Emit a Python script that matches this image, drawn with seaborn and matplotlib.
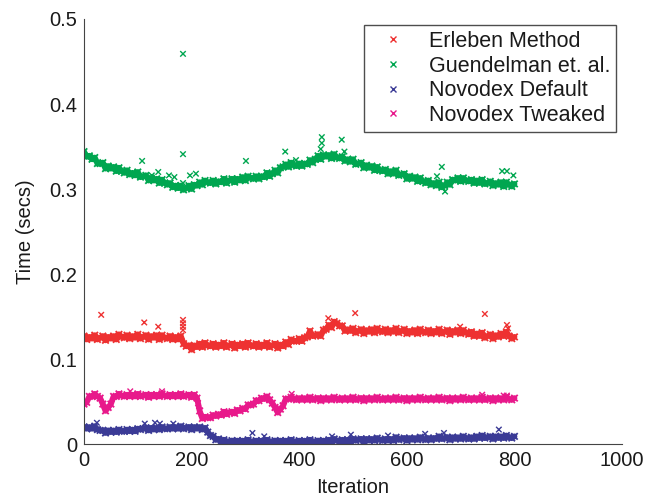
import numpy as np
import pandas as pd
import matplotlib
matplotlib.use("Agg")
import matplotlib.pyplot as plt
from matplotlib.lines import Line2D
import seaborn as sns

# Timing per iteration, sampled every 5 iterations (milliseconds)
iterations = list(range(0, 801, 5))

erleben_ms = [
    127, 123, 126, 124, 128, 123, 125, 127, 122, 126, 124, 127, 123, 129, 126, 125,
    128, 124, 127, 125, 129, 124, 126, 128, 123, 127, 125, 128, 123, 128, 125, 124,
    127, 123, 126, 123, 127, 118, 115, 116, 111, 116, 114, 118, 114, 119, 116, 115,
    118, 114, 117, 115, 119, 114, 116, 118, 113, 117, 115, 118, 114, 119, 116, 115,
    118, 114, 117, 115, 119, 114, 116, 118, 113, 117, 115, 120, 117, 123, 121, 121,
    124, 121, 125, 126, 133, 127, 128, 129, 127, 134, 135, 140, 137, 144, 142, 139,
    139, 133, 135, 133, 136, 131, 133, 135, 130, 134, 132, 135, 131, 136, 133, 132,
    135, 131, 134, 132, 136, 131, 133, 135, 130, 133, 131, 134, 130, 135, 132, 131,
    134, 130, 133, 131, 135, 130, 132, 134, 129, 133, 131, 134, 130, 134, 131, 129,
    132, 127, 130, 127, 131, 125, 127, 129, 124, 128, 126, 130, 127, 132, 127, 124,
    126,
]

guendelman_ms = [
    344, 338, 339, 335, 337, 330, 330, 331, 324, 327, 324, 326, 321, 325, 321, 319,
    322, 317, 319, 316, 320, 314, 315, 316, 310, 313, 310, 312, 307, 311, 307, 305,
    307, 302, 304, 301, 304, 299, 301, 304, 300, 305, 304, 308, 305, 310, 308, 307,
    310, 306, 309, 308, 312, 307, 310, 312, 308, 312, 310, 314, 310, 315, 313, 312,
    315, 312, 315, 314, 319, 315, 318, 322, 319, 325, 326, 329, 326, 331, 328, 327,
    330, 327, 330, 329, 334, 331, 335, 339, 335, 340, 338, 340, 336, 341, 337, 336,
    338, 333, 335, 332, 335, 329, 330, 331, 325, 328, 325, 327, 322, 326, 322, 321,
    323, 318, 321, 318, 322, 316, 317, 318, 312, 315, 312, 314, 309, 313, 309, 307,
    310, 305, 307, 304, 308, 302, 304, 308, 305, 311, 310, 313, 309, 313, 310, 309,
    311, 307, 310, 307, 311, 306, 307, 309, 304, 307, 305, 308, 303, 308, 305, 303,
    306,
]

novodex_default_ms = [
    20, 18, 20, 18, 21, 17, 16, 16, 13, 16, 14, 16, 14, 17, 15, 15,
    17, 15, 17, 15, 18, 17, 18, 19, 16, 19, 17, 19, 17, 20, 18, 18,
    20, 18, 20, 18, 21, 18, 19, 20, 17, 20, 18, 20, 17, 19, 14, 10,
    9, 5, 6, 3, 5, 2, 3, 4, 1, 4, 2, 4, 2, 5, 3, 2,
    4, 2, 4, 2, 5, 2, 3, 4, 1, 4, 2, 4, 2, 5, 3, 2,
    4, 2, 4, 2, 5, 2, 3, 4, 1, 4, 2, 5, 3, 6, 4, 3,
    5, 3, 5, 3, 6, 4, 5, 6, 3, 6, 4, 6, 4, 7, 5, 4,
    6, 4, 6, 4, 8, 5, 6, 7, 4, 7, 5, 7, 5, 8, 6, 5,
    7, 5, 7, 6, 9, 6, 7, 8, 5, 8, 6, 8, 6, 9, 7, 6,
    8, 6, 9, 7, 10, 7, 8, 9, 6, 9, 7, 9, 7, 10, 8, 7,
    9,
]

novodex_tweaked_ms = [
    47, 49, 56, 56, 59, 56, 54, 47, 39, 43, 47, 56, 56, 59, 57, 56,
    58, 56, 58, 56, 59, 56, 57, 58, 55, 58, 56, 58, 56, 59, 57, 56,
    58, 56, 58, 56, 59, 56, 57, 58, 55, 58, 54, 39, 30, 32, 31, 31,
    34, 33, 35, 34, 38, 35, 37, 38, 36, 40, 39, 42, 41, 46, 46, 47,
    51, 51, 54, 53, 56, 52, 48, 43, 37, 41, 45, 53, 53, 55, 53, 52,
    54, 52, 54, 52, 55, 52, 53, 54, 51, 54, 52, 54, 52, 55, 53, 52,
    54, 52, 54, 52, 55, 52, 53, 54, 51, 54, 52, 54, 52, 55, 53, 52,
    54, 52, 54, 52, 55, 52, 53, 54, 51, 54, 52, 54, 52, 55, 53, 52,
    54, 52, 54, 52, 55, 52, 53, 54, 51, 54, 52, 54, 52, 55, 53, 52,
    54, 52, 54, 52, 55, 52, 53, 54, 51, 54, 52, 54, 52, 55, 53, 52,
    54,
]

# Isolated slow iterations (iteration, milliseconds)
erleben_spike_iter = [32, 112, 138, 184, 184, 184, 184, 454, 504, 699, 745, 786, 788]
erleben_spike_ms = [152, 143, 138, 146, 142, 138, 134, 148, 154, 138, 153, 140, 136]

guendelman_spike_iter = [108, 126, 138, 158, 168, 184, 184, 184, 197, 208, 301, 374,
                         394, 442, 442, 440, 479, 484, 656, 665, 671, 777, 786, 798]
guendelman_spike_ms = [333, 316, 320, 316, 314, 459, 341, 307, 316, 318, 333, 344,
                       334, 361, 354, 347, 358, 344, 315, 326, 297, 321, 321, 316]

default_spike_iter = [24, 113, 132, 141, 166, 313, 335, 461, 496, 565, 634, 669, 771]
default_spike_ms = [25, 24, 25, 24, 24, 13, 9, 9, 11, 10, 12, 13, 17]

tweaked_spike_iter = [86, 145, 212, 386, 740, 780, 786]
tweaked_spike_ms = [62, 62, 48, 59, 58, 57, 57]

methods = ["Erleben Method", "Guendelman et. al.", "Novodex Default", "Novodex Tweaked"]
colors = ["#EE3131", "#00A650", "#3B3B96", "#E8198B"]

series = {
    methods[0]: (erleben_ms, erleben_spike_iter, erleben_spike_ms),
    methods[1]: (guendelman_ms, guendelman_spike_iter, guendelman_spike_ms),
    methods[2]: (novodex_default_ms, default_spike_iter, default_spike_ms),
    methods[3]: (novodex_tweaked_ms, tweaked_spike_iter, tweaked_spike_ms),
}

band_frames, spike_frames = [], []
for name, (vals, sp_it, sp_ms) in series.items():
    band_frames.append(pd.DataFrame({"Iteration": iterations,
                                     "Time": np.asarray(vals) / 1000.0,
                                     "Method": name}))
    spike_frames.append(pd.DataFrame({"Iteration": sp_it,
                                      "Time": np.asarray(sp_ms) / 1000.0,
                                      "Method": name}))
bands = pd.concat(band_frames, ignore_index=True)
spikes = pd.concat(spike_frames, ignore_index=True)

sns.set_style("white")
plt.rcParams["font.family"] = ["Liberation Sans", "DejaVu Sans"]
ink = "#1a1a1a"
fs = 14.5

fig = plt.figure(figsize=(6.48, 4.96), dpi=100)
ax = fig.add_axes([0.1296, 0.1048, 0.8304, 0.8569])

# solid core of each per-iteration trace
sns.lineplot(data=bands, x="Iteration", y="Time", hue="Method",
             hue_order=methods, palette=colors, estimator=None, sort=False,
             linewidth=4.2, ax=ax, legend=False)
# per-iteration crosses giving the band its ragged edge
sns.scatterplot(data=bands, x="Iteration", y="Time", hue="Method",
                hue_order=methods, palette=colors, marker="x",
                s=22, linewidth=1.3, ax=ax, legend=False)
# isolated slow iterations
sns.scatterplot(data=spikes, x="Iteration", y="Time", hue="Method",
                hue_order=methods, palette=colors, marker="x",
                s=16, linewidth=1.0, ax=ax, legend=False)

ax.set_xlim(0, 1000)
ax.set_ylim(0, 0.5)
ax.set_xticks([0, 200, 400, 600, 800, 1000])
ax.set_yticks([0, 0.1, 0.2, 0.3, 0.4, 0.5])
ax.set_yticklabels(["0", "0.1", "0.2", "0.3", "0.4", "0.5"])
ax.tick_params(axis="both", direction="in", length=4, width=0.8,
               labelsize=fs, colors=ink, pad=5)
ax.set_xlabel("Iteration", fontsize=fs, color=ink, labelpad=6)
ax.set_ylabel("Time (secs)", fontsize=fs, color=ink, labelpad=10)

for side in ["top", "right"]:
    ax.spines[side].set_visible(False)
for side in ["left", "bottom"]:
    ax.spines[side].set_color("#444444")
    ax.spines[side].set_linewidth(0.8)

handles = [Line2D([], [], linestyle="none", marker="x", markersize=4.5,
                  markeredgewidth=1.0, color=c) for c in colors]
leg = ax.legend(handles, methods, loc="upper right",
                bbox_to_anchor=(0.989, 0.986), borderaxespad=0.0,
                fontsize=15.5, frameon=True, fancybox=False, edgecolor="#222222",
                handlelength=2.1, handletextpad=0.6, labelspacing=0.17,
                borderpad=0.28)
leg.get_frame().set_linewidth(1.0)
for t in leg.get_texts():
    t.set_color(ink)

fig.savefig("out.png", dpi=100)
